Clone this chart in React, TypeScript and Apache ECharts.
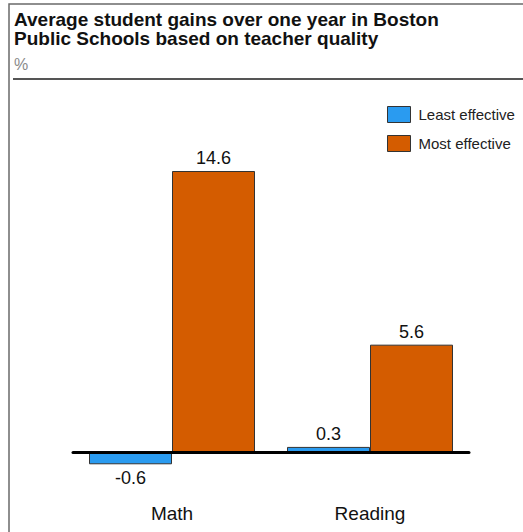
import React, { useEffect, useRef } from "react";
import * as echarts from "echarts";

// Subjects and average one-year gains (%) by teacher effectiveness
const categories = ["Math", "Reading"];
const leastEffective = [-0.6, 0.3];
const mostEffective = [14.6, 5.6];
const seriesNames = ["Least effective", "Most effective"];

const titleLines = [
  "Average student gains over one year in Boston",
  "Public Schools based on teacher quality",
];
const unitLabel = "%";

const BLUE = "#2a9bf0";
const ORANGE = "#d45c00";
const FONT = "'Liberation Sans', Arial, Helvetica, sans-serif";

export default function App() {
  const ref = useRef<HTMLDivElement>(null);

  useEffect(() => {
    if (!ref.current) return;
    const chart = echarts.init(ref.current, null, { renderer: "svg" });

    // Negative values carry their label below the bar
    const valueLabel = (v: number) => ({
      value: v,
      label: { position: v < 0 ? "bottom" : "top", distance: v < 0 ? 5 : 4 },
    });

    const barLabel = {
      show: true,
      fontSize: 18,
      color: "#111111",
      fontFamily: FONT,
    };

    // Each title line is its own text element
    const titleTexts = titleLines.map((line, i) => ({
      type: "text",
      x: 14,
      y: 10 + i * 19,
      style: {
        text: line,
        font: `bold 19px ${FONT}`,
        fill: "#111111",
        lineHeight: 19,
      },
    }));

    chart.setOption({
      animation: false,
      backgroundColor: "#ffffff",
      textStyle: { fontFamily: FONT },
      graphic: [
        {
          type: "rect",
          shape: { x: 9, y: 4, width: 540, height: 560 },
          style: { fill: "none", stroke: "#6a6a6a", lineWidth: 1.5 },
          silent: true,
        },
        {
          type: "line",
          shape: { x1: 13, y1: 79, x2: 523, y2: 79 },
          style: { stroke: "#555555", lineWidth: 2 },
          silent: true,
        },
        ...titleTexts,
        {
          type: "text",
          x: 14,
          y: 56,
          style: {
            text: unitLabel,
            font: `16px ${FONT}`,
            fill: "#8a8a8a",
          },
        },
      ],
      legend: {
        orient: "vertical",
        left: 382,
        top: 101,
        icon: "rect",
        itemWidth: 23,
        itemHeight: 16,
        itemGap: 12,
        itemStyle: { borderColor: "#333333", borderWidth: 1 },
        textStyle: {
          fontSize: 15,
          color: "#222222",
          fontFamily: FONT,
          padding: [0, 0, 0, 3],
        },
        data: seriesNames,
      },
      grid: { left: 73, right: 54, top: 144, height: 328, outerBoundsMode: "none" },
      xAxis: {
        type: "category",
        data: categories,
        z: 10,
        axisLine: { onZero: true, lineStyle: { color: "#000000", width: 3 } },
        axisTick: { show: false },
        axisLabel: { margin: 32, fontSize: 19, color: "#111111", fontFamily: FONT },
      },
      yAxis: {
        type: "value",
        min: -1,
        max: 16,
        show: false,
        splitLine: { show: false },
      },
      series: [
        {
          name: seriesNames[0],
          type: "bar",
          data: leastEffective.map(valueLabel),
          barWidth: 83,
          barGap: "0%",
          itemStyle: { color: BLUE, borderColor: "#333333", borderWidth: 1 },
          label: barLabel,
        },
        {
          name: seriesNames[1],
          type: "bar",
          data: mostEffective.map(valueLabel),
          barWidth: 83,
          barGap: "0%",
          itemStyle: { color: ORANGE, borderColor: "#333333", borderWidth: 1 },
          label: barLabel,
        },
      ],
    });

    return () => chart.dispose();
  }, []);

  return (
    <div
      ref={ref}
      style={{ position: "fixed", left: 0, top: 0, width: 523, height: 532 }}
    />
  );
}
